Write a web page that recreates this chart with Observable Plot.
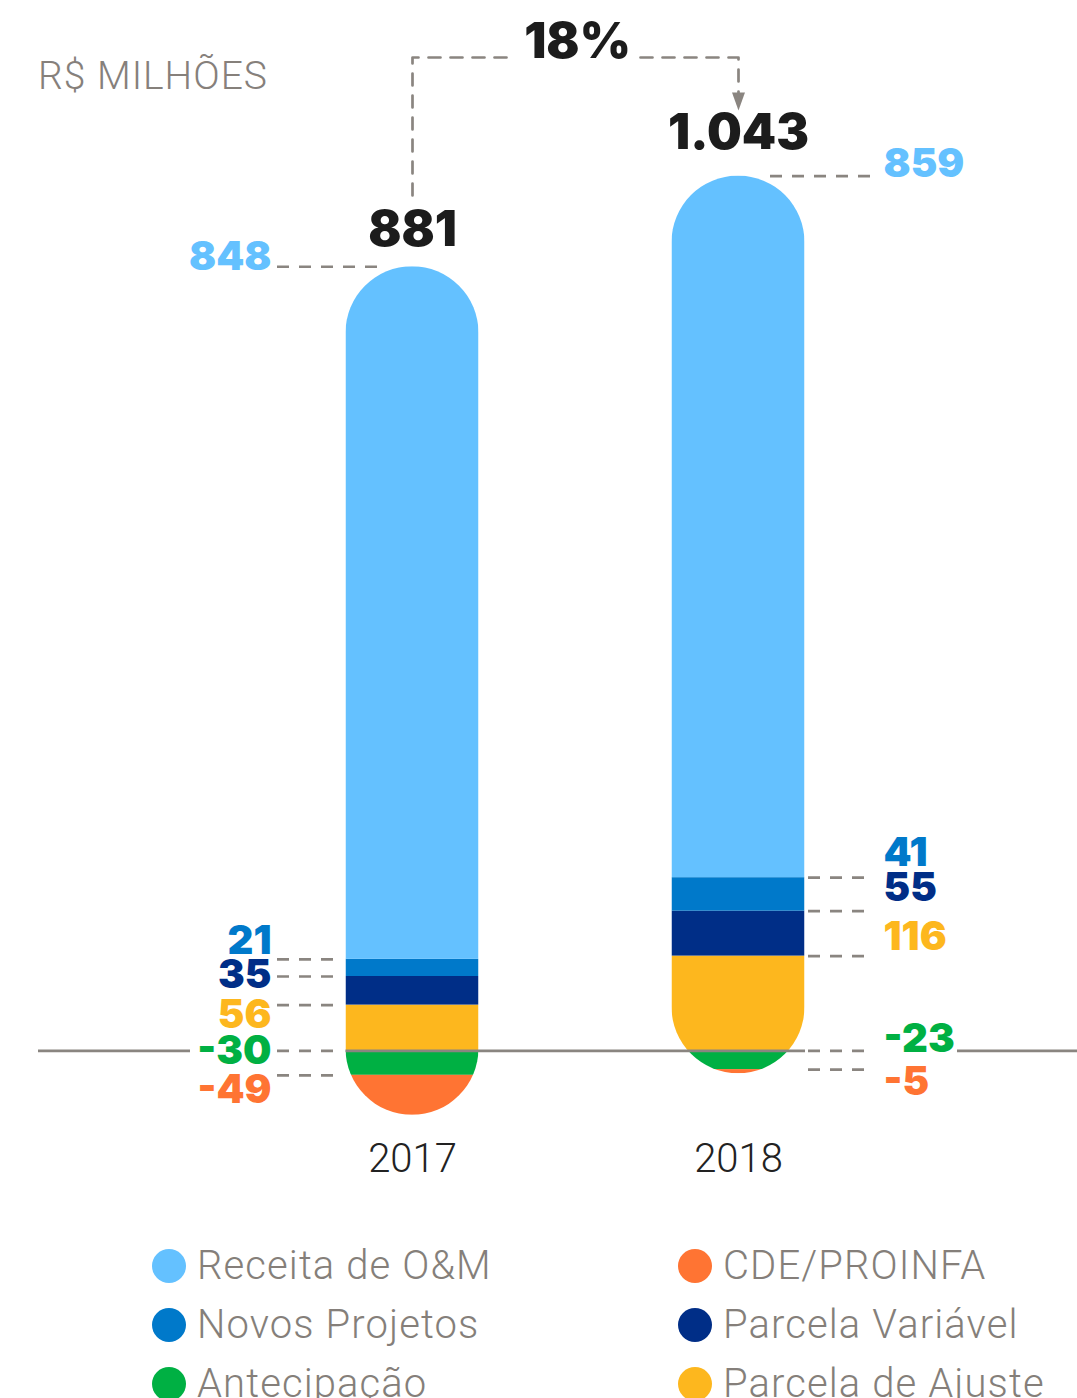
<!DOCTYPE html>
<html><head><meta charset="utf-8">
<script src="https://cdn.jsdelivr.net/npm/d3@7"></script>
<script src="https://cdn.jsdelivr.net/npm/@observablehq/plot@0.6"></script>
<style>
html,body{margin:0;padding:0;background:#fff;}
#wrap{position:relative;width:1077px;height:1398px;overflow:hidden;font-family:Roboto,"Open Sans",sans-serif;}
#chart{position:absolute;left:0;top:0;}
#title{position:absolute;left:38px;top:57px;font-size:39px;font-weight:300;color:#86807b;line-height:1;letter-spacing:1px;white-space:nowrap}
.leg{position:absolute;display:flex;align-items:center;font-size:40px;font-weight:300;color:#857f7a;line-height:1;white-space:nowrap;letter-spacing:1.1px}
.leg .sw{width:34px;height:34px;border-radius:50%;margin-right:11px;flex:none}
#chart svg g[aria-label="x-axis tick label"] text{font-weight:300}
</style></head>
<body><div id="wrap"><div id="chart"></div><div id="title"></div><div id="legend"></div></div>
<script>
// ---------- data ----------
const years = [2017, 2018];
const categories = ["Receita de O&M", "Novos Projetos", "Parcela Variável", "Parcela de Ajuste", "Antecipação", "CDE/PROINFA"];
const values2017 = [848, 21, 35, 56, -30, -49];
const values2018 = [859, 41, 55, 116, -23, -5];
const totalLabels = ["881", "1.043"];
const growthLabel = "18%";
const titleText = "R$ MILHÕES";
const stackOrder = ["Parcela de Ajuste", "Parcela Variável", "Novos Projetos", "Receita de O&M", "Antecipação", "CDE/PROINFA"];
const legendColumns = [["Receita de O&M", "Novos Projetos", "Antecipação"], ["CDE/PROINFA", "Parcela Variável", "Parcela de Ajuste"]];
const colors = ["#64C1FF", "#0079CA", "#002E87", "#FDB71E", "#00B043", "#FF7433"];

// ---------- layout ----------
const W = 1077, H = 1200, M_BOTTOM = 68;
const Y_DOMAIN = [-100, 1286];
const X_DOMAIN = [2017 - 412 / 326, 2017 + 665 / 326];
const kX = W / (X_DOMAIN[1] - X_DOMAIN[0]);
const kY = (H - M_BOTTOM) / (Y_DOMAIN[1] - Y_DOMAIN[0]);
const dxu = px => px / kX;           // horizontal pixels -> x units
const dyu = px => px / kY;           // vertical pixels -> y units
const yAtPx = px => Y_DOMAIN[1] - px / kY;
const BAR_HALF = dxu(66.5);
const labelDy = {2017: [-10, -18, -1, 10, 0, 15], 2018: [-12, -24, -23, -19, -12, 13]};
const totalDy = [-36, -43];
const GRAY = "#8a8580";
const DASH = "12,10";
const NUM_FONT = "Inter, Lato, sans-serif";

// ---------- derived table ----------
const valuesByYear = {2017: values2017, 2018: values2018};
const colorOf = Object.fromEntries(categories.map((c, i) => [c, colors[i]]));
const rows = [];
const extents = {};
for (const yr of years) {
  let pos = 0, neg = 0;
  for (const cat of stackOrder) {
    const i = categories.indexOf(cat);
    const v = valuesByYear[yr][i];
    let y1, y2;
    if (v >= 0) { y1 = pos; y2 = pos + v; pos = y2; } else { y1 = neg; y2 = neg + v; neg = y2; }
    rows.push({year: yr, category: cat, value: v, y1, y2, leader: Math.max(y1, y2),
      dy: labelDy[yr][i], left: yr === years[0], isTop: i === 0});
  }
  extents[yr] = {top: pos, bottom: neg};
}
const leftRows = rows.filter(d => d.left), rightRows = rows.filter(d => !d.left);
const leaderX1 = d => d.left ? d.year - dxu(135) : d.year + dxu(d.isTop ? 32 : 70);
const leaderX2 = d => d.left ? d.year - dxu(d.isTop ? 35 : 72) : d.year + dxu(134);
const zeroSegments = [
  [years[0] - dxu(374), years[0] - dxu(222)],
  [years[0] - dxu(66.5), years[1] + dxu(67)],
  [years[1] + dxu(219), years[1] + dxu(339)]
];
const mid = (years[0] + years[1]) / 2;
const yBracket = yAtPx(57), yBracketStart = yAtPx(195), yArrowEnd = yAtPx(93), yArrowHead = yAtPx(101);
const downTriangle = {draw(ctx, size) { const r = Math.sqrt(size / Math.PI); ctx.moveTo(-0.72 * r, -r); ctx.lineTo(0.72 * r, -r); ctx.lineTo(0, r); ctx.closePath(); }};
const labelStyle = {y: d => d.leader - dyu(d.dy), text: d => String(d.value), fill: d => colorOf[d.category],
  fontSize: 40, fontWeight: 900, fontFamily: NUM_FONT, letterSpacing: "-0.5px"};

const plot = Plot.plot({
  width: W, height: H, marginTop: 0, marginBottom: M_BOTTOM, marginLeft: 0, marginRight: 0,
  x: {domain: X_DOMAIN, label: null},
  y: {domain: Y_DOMAIN, axis: null},
  color: {domain: categories, range: colors},
  style: {fontFamily: "Roboto, sans-serif", background: "transparent", overflow: "visible", color: "#222"},
  marks: [
    Plot.rect(rows, {x1: d => d.year - BAR_HALF, x2: d => d.year + BAR_HALF, y1: "y1", y2: "y2", fill: "category"}),
    Plot.ruleY(zeroSegments, {y: () => 0, x1: d => d[0], x2: d => d[1], stroke: GRAY, strokeWidth: 2.7}),
    Plot.ruleY(rows, {y: "leader", x1: leaderX1, x2: leaderX2, stroke: GRAY, strokeWidth: 2.7, strokeDasharray: DASH}),
    Plot.text(leftRows, {...labelStyle, x: d => d.year - dxu(141), textAnchor: "end"}),
    Plot.text(rightRows, {...labelStyle, x: d => d.year + dxu(145), textAnchor: "start"}),
    Plot.text(years, {x: d => d, y: (d, i) => extents[d].top - dyu(totalDy[i]), text: (d, i) => totalLabels[i],
      fill: "#1c1c1c", fontSize: 49, fontWeight: 900, fontFamily: NUM_FONT, letterSpacing: "-0.5px"}),
    Plot.line([[years[0], yBracketStart], [years[0], yBracket], [mid - dxu(60), yBracket]], {stroke: GRAY, strokeWidth: 2.7, strokeDasharray: DASH}),
    Plot.line([[mid + dxu(65), yBracket], [years[1], yBracket], [years[1], yArrowEnd]], {stroke: GRAY, strokeWidth: 2.7, strokeDasharray: DASH}),
    Plot.dot([[years[1], yArrowHead]], {symbol: downTriangle, r: 9, fill: GRAY, stroke: null}),
    Plot.text([growthLabel], {x: () => mid, y: () => yBracket + dyu(15), dx: 2, text: d => d, fill: "#1c1c1c", fontSize: 49, fontWeight: 900, fontFamily: NUM_FONT, letterSpacing: "-0.5px"}),
    Plot.axisX(years, {tickFormat: d => String(d), tickSize: 0, tickPadding: 11, fontSize: 40, fill: "#222"})
  ]
});

// rounded "pill" clipping of each stacked bar, positioned through the plot's own scales
const xS = plot.scale("x"), yS = plot.scale("y");
const fx = v => (xS && typeof xS.apply === "function") ? xS.apply(v) : (v - X_DOMAIN[0]) * kX;
const fy = v => (yS && typeof yS.apply === "function") ? yS.apply(v) : (Y_DOMAIN[1] - v) * kY;
const ns = "http://www.w3.org/2000/svg";
const defs = document.createElementNS(ns, "defs");
for (const yr of years) {
  const cp = document.createElementNS(ns, "clipPath");
  cp.setAttribute("id", "pill-" + yr);
  const r = document.createElementNS(ns, "rect");
  const x0 = fx(yr - BAR_HALF), x1 = fx(yr + BAR_HALF);
  const yTop = fy(extents[yr].top), yBot = fy(extents[yr].bottom);
  r.setAttribute("x", x0); r.setAttribute("width", x1 - x0);
  r.setAttribute("y", yTop); r.setAttribute("height", yBot - yTop);
  r.setAttribute("rx", (x1 - x0) / 2); r.setAttribute("ry", (x1 - x0) / 2);
  cp.appendChild(r); defs.appendChild(cp);
}
plot.insertBefore(defs, plot.firstChild);
const rectGroup = plot.querySelector('g[aria-label="rect"]');
rectGroup.querySelectorAll("rect").forEach((el, i) => el.setAttribute("clip-path", `url(#pill-${rows[i].year})`));

document.getElementById("chart").appendChild(plot);
document.getElementById("title").textContent = titleText;

// legend
const legend = document.getElementById("legend");
const legendLeft = [152, 678], legendTop = 1246, legendStep = 59;
legendColumns.forEach((col, c) => col.forEach((cat, r) => {
  const item = document.createElement("div");
  item.className = "leg";
  item.style.left = legendLeft[c] + "px";
  item.style.top = (legendTop + r * legendStep) + "px";
  const sw = document.createElement("span"); sw.className = "sw"; sw.style.background = colorOf[cat];
  const t = document.createElement("span"); t.textContent = cat;
  item.appendChild(sw); item.appendChild(t);
  legend.appendChild(item);
}));
</script></body></html>
